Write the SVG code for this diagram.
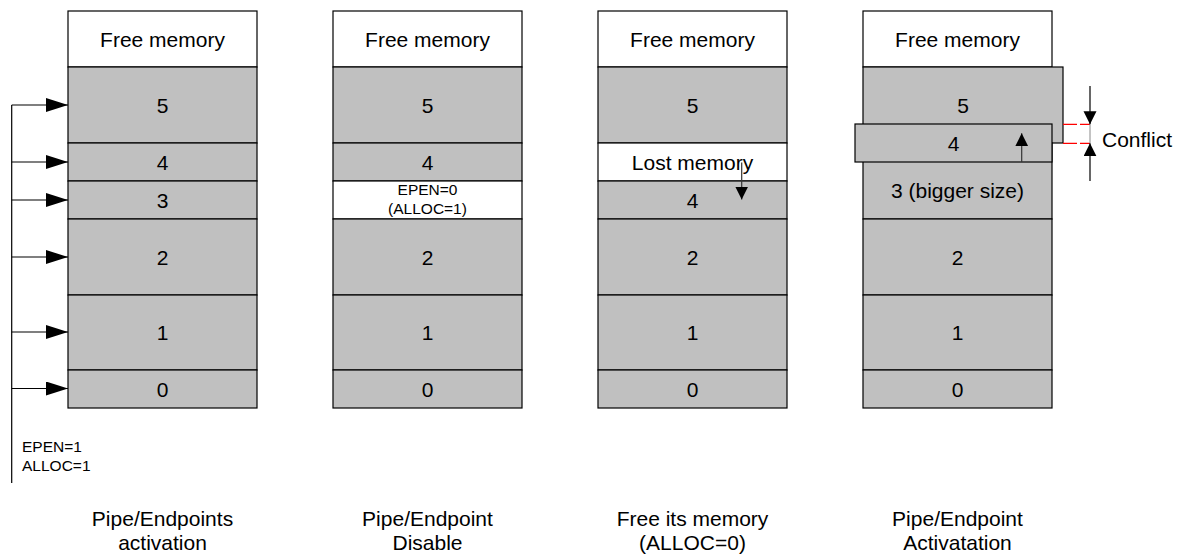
<svg xmlns="http://www.w3.org/2000/svg" width="1186" height="554" viewBox="0 0 1186 554">
<defs>
<style>
text{font-family:"Liberation Sans",Arial,sans-serif;fill:#000}
.t{font-size:21px;text-anchor:middle}
.s{font-size:15.5px}
.g{fill:#C0C0C0;stroke:#000;stroke-width:1.2}
.w{fill:#fff;stroke:#000;stroke-width:1.2}
.ln{stroke:#000;stroke-width:1.2;fill:none}
.thin{stroke:#333;stroke-width:1.2;fill:none}
.red{stroke:#f00;stroke-width:1.2;stroke-dasharray:14 3;fill:none}
</style>
<marker id="big" markerUnits="userSpaceOnUse" markerWidth="23" markerHeight="15" refX="22" refY="7" orient="auto"><path d="M0,0 L22,7 L0,14 z" fill="#000"/></marker>
<marker id="sm" markerUnits="userSpaceOnUse" markerWidth="14" markerHeight="14" refX="13" refY="6.5" orient="auto"><path d="M0,0 L13,6.5 L0,13 z" fill="#000"/></marker>
</defs>

<g id="col1">
<rect class="w" x="68" y="11" width="189" height="56"/>
<rect class="g" x="68" y="67" width="189" height="76"/>
<rect class="g" x="68" y="143" width="189" height="38"/>
<rect class="g" x="68" y="181" width="189" height="38"/>
<rect class="g" x="68" y="219" width="189" height="76"/>
<rect class="g" x="68" y="295" width="189" height="75"/>
<rect class="g" x="68" y="370" width="189" height="38"/>
<text class="t" x="162.5" y="46.5">Free memory</text>
<text class="t" x="162.5" y="112.5">5</text>
<text class="t" x="162.5" y="169.5">4</text>
<text class="t" x="162.5" y="207.5">3</text>
<text class="t" x="162.5" y="264.5">2</text>
<text class="t" x="162.5" y="340">1</text>
<text class="t" x="162.5" y="396.5">0</text>
<text class="s" x="22" y="452">EPEN=1</text>
<text class="s" x="22" y="470.5">ALLOC=1</text>
<text class="t" x="162.5" y="525.5">Pipe/Endpoints</text>
<text class="t" x="162.5" y="550">activation</text>
</g>

<g id="col2">
<rect class="w" x="333" y="11" width="189" height="56"/>
<rect class="g" x="333" y="67" width="189" height="76"/>
<rect class="g" x="333" y="143" width="189" height="38"/>
<rect class="w" x="333" y="181" width="189" height="38"/>
<rect class="g" x="333" y="219" width="189" height="76"/>
<rect class="g" x="333" y="295" width="189" height="75"/>
<rect class="g" x="333" y="370" width="189" height="38"/>
<text class="t" x="427.5" y="46.5">Free memory</text>
<text class="t" x="427.5" y="112.5">5</text>
<text class="t" x="427.5" y="169.5">4</text>
<text class="s" x="427.5" y="194.5" text-anchor="middle">EPEN=0</text>
<text class="s" x="427.5" y="214" text-anchor="middle">(ALLOC=1)</text>
<text class="t" x="427.5" y="264.5">2</text>
<text class="t" x="427.5" y="340">1</text>
<text class="t" x="427.5" y="396.5">0</text>
<text class="t" x="427.5" y="525.5">Pipe/Endpoint</text>
<text class="t" x="427.5" y="550">Disable</text>
</g>

<g id="col3">
<rect class="w" x="598" y="11" width="189" height="56"/>
<rect class="g" x="598" y="67" width="189" height="76"/>
<rect class="w" x="598" y="143" width="189" height="38"/>
<rect class="g" x="598" y="181" width="189" height="38"/>
<rect class="g" x="598" y="219" width="189" height="76"/>
<rect class="g" x="598" y="295" width="189" height="75"/>
<rect class="g" x="598" y="370" width="189" height="38"/>
<text class="t" x="692.5" y="46.5">Free memory</text>
<text class="t" x="692.5" y="112.5">5</text>
<text class="t" x="692.5" y="169.5">Lost memory</text>
<text class="t" x="692.5" y="207.5">4</text>
<text class="t" x="692.5" y="264.5">2</text>
<text class="t" x="692.5" y="340">1</text>
<text class="t" x="692.5" y="396.5">0</text>
<text class="t" x="692.5" y="525.5">Free its memory</text>
<text class="t" x="692.5" y="550">(ALLOC=0)</text>
</g>

<g id="col4">
<rect class="w" x="863" y="11" width="189" height="56"/>
<rect class="g" x="863" y="67" width="200" height="76"/>
<rect class="g" x="863" y="143" width="189" height="76"/>
<rect class="g" x="855" y="124" width="197" height="38"/>
<rect class="g" x="863" y="219" width="189" height="76"/>
<rect class="g" x="863" y="295" width="189" height="75"/>
<rect class="g" x="863" y="370" width="189" height="38"/>
<text class="t" x="957.5" y="46.5">Free memory</text>
<text class="t" x="963" y="112.5">5</text>
<text class="t" x="953.5" y="150.5">4</text>
<text class="t" x="957.5" y="198">3 (bigger size)</text>
<text class="t" x="957.5" y="264.5">2</text>
<text class="t" x="957.5" y="340">1</text>
<text class="t" x="957.5" y="396.5">0</text>
<text class="t" x="957.5" y="525.5">Pipe/Endpoint</text>
<text class="t" x="957.5" y="550">Activatation</text>
<text style="font-size:21px" x="1102" y="147">Conflict</text>
</g>

<g id="connectors">
<line class="ln" x1="11.7" y1="105" x2="11.7" y2="483"/>
<line class="ln" x1="11.7" y1="105" x2="68" y2="105" marker-end="url(#big)"/>
<line class="ln" x1="11.7" y1="162" x2="68" y2="162" marker-end="url(#big)"/>
<line class="ln" x1="11.7" y1="200" x2="68" y2="200" marker-end="url(#big)"/>
<line class="ln" x1="11.7" y1="257" x2="68" y2="257" marker-end="url(#big)"/>
<line class="ln" x1="11.7" y1="332" x2="68" y2="332" marker-end="url(#big)"/>
<line class="ln" x1="11.7" y1="388.5" x2="68" y2="388.5" marker-end="url(#big)"/>
<line class="thin" x1="741.7" y1="162.5" x2="741.7" y2="199.5" marker-end="url(#sm)"/>
<line class="thin" x1="1021.7" y1="162" x2="1021.7" y2="133.3" marker-end="url(#sm)"/>
<line class="red" x1="1063" y1="124.3" x2="1090" y2="124.3"/>
<line class="red" x1="1063" y1="143.3" x2="1090" y2="143.3"/>
<line class="ln" x1="1090" y1="86" x2="1090" y2="124.3" marker-end="url(#sm)"/>
<line class="ln" x1="1090" y1="181" x2="1090" y2="143.3" marker-end="url(#sm)"/>
<line stroke="#888" stroke-width="1" x1="1090" y1="124.3" x2="1090" y2="143.3"/>
</g>
</svg>
